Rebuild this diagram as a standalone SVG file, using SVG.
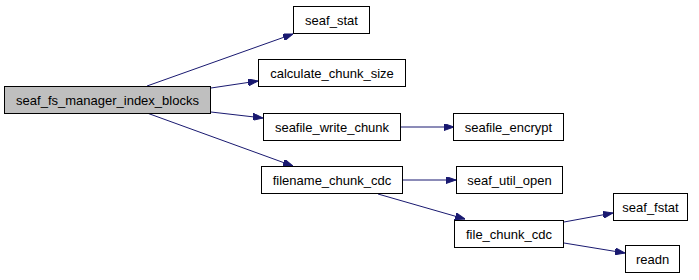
<svg xmlns="http://www.w3.org/2000/svg" width="699" height="280" viewBox="0 0 699 280">
  <style>
    .node rect { fill: #ffffff; stroke: #000000; stroke-width: 1; }
    .node.current rect { fill: #bfbfbf; }
    .node text { font-family: "Liberation Sans", Arial, sans-serif; font-size: 13px; text-anchor: middle; fill: #000000; }
    .edge { fill: none; stroke: #191970; stroke-width: 1; marker-end: url(#arrow); }
  </style>
  <defs>
    <marker id="arrow" viewBox="0 0 10 7" refX="10" refY="3.5" markerWidth="10" markerHeight="7" markerUnits="userSpaceOnUse" orient="auto">
      <path d="M0,0 L10,3.5 L0,7 z" fill="#191970" stroke="#191970"/>
    </marker>
  </defs>

  <g id="connectors">
    <line class="edge" x1="147" y1="86" x2="293" y2="34"/>
    <line class="edge" x1="211" y1="88" x2="258" y2="81"/>
    <line class="edge" x1="211" y1="112" x2="263" y2="118"/>
    <line class="edge" x1="147" y1="113" x2="293" y2="166"/>
    <line class="edge" x1="401" y1="127" x2="454" y2="127"/>
    <line class="edge" x1="403" y1="180" x2="456" y2="180"/>
    <line class="edge" x1="378" y1="194" x2="465" y2="219"/>
    <line class="edge" x1="564" y1="222" x2="613" y2="213"/>
    <line class="edge" x1="564" y1="243" x2="625" y2="253"/>
  </g>

  <g id="seaf_fs_manager_index_blocks" class="node current">
    <rect x="4.5" y="86.5" width="206" height="27"/>
    <text x="107.5" y="104.5">seaf_fs_manager_index_blocks</text>
  </g>
  <g id="seaf_stat" class="node">
    <rect x="293.5" y="6.5" width="76" height="27"/>
    <text x="331.5" y="24.5">seaf_stat</text>
  </g>
  <g id="calculate_chunk_size" class="node">
    <rect x="258.5" y="59.5" width="147" height="27"/>
    <text x="332" y="77.5">calculate_chunk_size</text>
  </g>
  <g id="seafile_write_chunk" class="node">
    <rect x="263.5" y="113.5" width="137" height="27"/>
    <text x="332" y="131.5">seafile_write_chunk</text>
  </g>
  <g id="filename_chunk_cdc" class="node">
    <rect x="261.5" y="166.5" width="141" height="27"/>
    <text x="332" y="184.5">filename_chunk_cdc</text>
  </g>
  <g id="seafile_encrypt" class="node">
    <rect x="453.5" y="113.5" width="110" height="27"/>
    <text x="508.5" y="131.5">seafile_encrypt</text>
  </g>
  <g id="seaf_util_open" class="node">
    <rect x="456.5" y="166.5" width="106" height="27"/>
    <text x="509.5" y="184.5">seaf_util_open</text>
  </g>
  <g id="file_chunk_cdc" class="node">
    <rect x="454.5" y="220.5" width="109" height="27"/>
    <text x="509" y="238.5">file_chunk_cdc</text>
  </g>
  <g id="seaf_fstat" class="node">
    <rect x="613.5" y="193.5" width="74" height="27"/>
    <text x="650.5" y="211.5">seaf_fstat</text>
  </g>
  <g id="readn" class="node">
    <rect x="625.5" y="245.5" width="54" height="27"/>
    <text x="652.5" y="263.5">readn</text>
  </g>
</svg>
